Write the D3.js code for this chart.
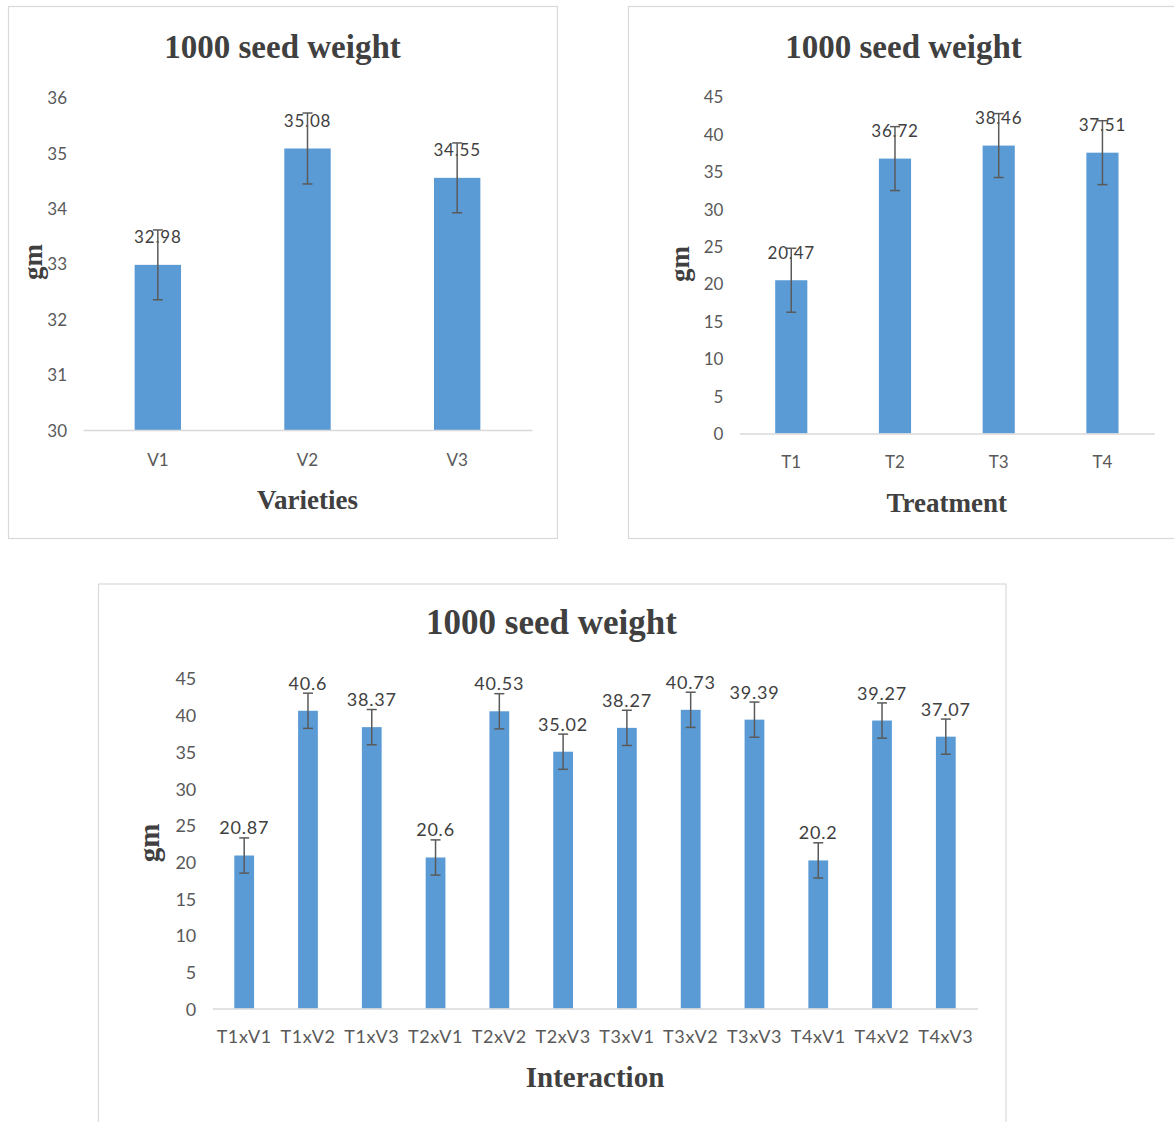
<!DOCTYPE html>
<html><head><meta charset="utf-8">
<script src="https://cdnjs.cloudflare.com/ajax/libs/d3/7.8.5/d3.min.js"></script>
<style>
html,body{margin:0;padding:0;background:#fff;}
svg{display:block;}
</style>
</head><body>
<svg id="chart" width="1174" height="1122"></svg>
<script>
// ---- Data ----
const chartTitle = "1000 seed weight";
const yAxisTitle = "gm";

const varieties = ["V1", "V2", "V3"];
const varietyValues = [32.98, 35.08, 34.55];
const varietyErrors = [0.63, 0.64, 0.63];
const varietyTicks = [30, 31, 32, 33, 34, 35, 36];

const treatments = ["T1", "T2", "T3", "T4"];
const treatmentValues = [20.47, 36.72, 38.46, 37.51];
const treatmentErrors = [4.27, 4.27, 4.27, 4.27];
const treatmentTicks = [0, 5, 10, 15, 20, 25, 30, 35, 40, 45];

const interactions = ["T1xV1", "T1xV2", "T1xV3", "T2xV1", "T2xV2", "T2xV3",
                      "T3xV1", "T3xV2", "T3xV3", "T4xV1", "T4xV2", "T4xV3"];
const interactionValues = [20.87, 40.6, 38.37, 20.6, 40.53, 35.02,
                           38.27, 40.73, 39.39, 20.2, 39.27, 37.07];
const interactionErrors = [2.4, 2.4, 2.4, 2.4, 2.4, 2.4, 2.4, 2.4, 2.4, 2.4, 2.4, 2.4];
const interactionTicks = [0, 5, 10, 15, 20, 25, 30, 35, 40, 45];

// ---- Drawing ----
const svg = d3.select("#chart");
svg.append("rect").attr("width", 1174).attr("height", 1122).attr("fill", "#fff");

const BAR = "#5B9BD5", TXT = "#595959", LBL = "#404040", TTL = "#404040", LINE = "#D9D9D9", ERR = "#5a5a5a";
const SANS = "Lato, 'Open Sans', sans-serif";
const SERIF = "'Liberation Serif', 'Times New Roman', serif";

function drawPanel(cfg) {
  const g = svg.append("g");
  g.append("rect")
    .attr("x", cfg.box[0] + 0.5).attr("y", cfg.box[1] + 0.5)
    .attr("width", cfg.box[2]).attr("height", cfg.box[3])
    .attr("fill", "#fff").attr("stroke", LINE).attr("stroke-width", 1.2);

  const x = d3.scaleBand().domain(cfg.cats).range([cfg.x0, cfg.x1])
    .paddingInner(0.69).paddingOuter(0.345);
  const y = d3.scaleLinear().domain(cfg.domain).range([cfg.y0, cfg.y1]);

  // title
  g.append("text").attr("x", cfg.titleX).attr("y", cfg.titleY)
    .attr("text-anchor", "middle").attr("font-family", SERIF).attr("font-weight", "bold")
    .attr("font-size", cfg.titleSize).attr("fill", TTL).text(chartTitle);

  // y axis
  const ya = g.append("g").attr("transform", `translate(${cfg.x0},0)`)
    .call(d3.axisLeft(y).tickValues(cfg.ticks).tickSize(0).tickPadding(16).tickFormat(d3.format("d")));
  ya.select(".domain").remove();
  ya.selectAll("text").attr("font-family", SANS).attr("font-size", cfg.tickSize)
    .attr("fill", TXT).attr("dy", "0.36em");

  // bars
  g.selectAll(".bar").data(cfg.vals).enter().append("rect")
    .attr("x", (d, i) => x(cfg.cats[i]))
    .attr("y", d => y(d))
    .attr("width", x.bandwidth())
    .attr("height", d => y(cfg.domain[0]) - y(d))
    .attr("fill", BAR);

  // x axis
  const xa = g.append("g").attr("transform", `translate(0,${cfg.y0})`)
    .call(d3.axisBottom(x).tickSize(0).tickSizeOuter(0));
  xa.select(".domain").attr("stroke", LINE).attr("stroke-width", 1.5);
  xa.selectAll("text").attr("font-family", SANS).attr("font-size", cfg.tickSize)
    .attr("letter-spacing", cfg.xLabelSpacing)
    .attr("fill", TXT).attr("y", cfg.xLabelDy).attr("dy", 0);

  // data labels
  g.selectAll(".lbl").data(cfg.vals).enter().append("text")
    .attr("x", (d, i) => x(cfg.cats[i]) + x.bandwidth() / 2)
    .attr("y", d => y(d) - 27.5)
    .attr("dy", "0.36em")
    .attr("text-anchor", "middle").attr("font-family", SANS).attr("font-size", cfg.labelSize)
    .attr("letter-spacing", 0.8)
    .attr("fill", LBL).text(d => String(d));

  // error bars
  const eb = g.selectAll(".err").data(cfg.vals).enter().append("g")
    .attr("stroke", ERR).attr("stroke-width", 1.5);
  eb.append("line")
    .attr("x1", (d, i) => x(cfg.cats[i]) + x.bandwidth() / 2)
    .attr("x2", (d, i) => x(cfg.cats[i]) + x.bandwidth() / 2)
    .attr("y1", (d, i) => y(d + cfg.errs[i]))
    .attr("y2", (d, i) => y(d - cfg.errs[i]));
  [1, -1].forEach(s => {
    eb.append("line")
      .attr("x1", (d, i) => x(cfg.cats[i]) + x.bandwidth() / 2 - 5)
      .attr("x2", (d, i) => x(cfg.cats[i]) + x.bandwidth() / 2 + 5)
      .attr("y1", (d, i) => y(d + s * cfg.errs[i]))
      .attr("y2", (d, i) => y(d + s * cfg.errs[i]));
  });

  // axis titles
  g.append("text").attr("x", (cfg.x0 + cfg.x1) / 2).attr("y", cfg.xTitleY)
    .attr("text-anchor", "middle").attr("font-family", SERIF).attr("font-weight", "bold")
    .attr("font-size", cfg.axisTitleSize).attr("fill", TTL).text(cfg.xTitle);
  g.append("text").attr("transform", `translate(${cfg.gmX},${cfg.gmY}) rotate(-90)`)
    .attr("text-anchor", "middle").attr("font-family", SERIF).attr("font-weight", "bold")
    .attr("font-size", cfg.axisTitleSize).attr("fill", TTL).text(yAxisTitle);
}

drawPanel({
  box: [8, 6, 549, 532], cats: varieties, vals: varietyValues, errs: varietyErrors,
  ticks: varietyTicks, domain: [30, 36], x0: 83, x1: 532, y0: 430, y1: 97.5,
  titleX: 282.5, titleY: 58, titleSize: 33, tickSize: 17, labelSize: 17, xLabelSpacing: 0,
  xLabelDy: 36, xTitle: "Varieties", xTitleY: 509, axisTitleSize: 27, gmX: 42, gmY: 262
});

drawPanel({
  box: [628, 6, 560, 532], cats: treatments, vals: treatmentValues, errs: treatmentErrors,
  ticks: treatmentTicks, domain: [0, 45], x0: 739.4, x1: 1154.3, y0: 433.5, y1: 96.6,
  titleX: 903.5, titleY: 58, titleSize: 33, tickSize: 17, labelSize: 17, xLabelSpacing: 0,
  xLabelDy: 34, xTitle: "Treatment", xTitleY: 512, axisTitleSize: 27, gmX: 689, gmY: 264
});

drawPanel({
  box: [98, 583.5, 907.5, 560], cats: interactions, vals: interactionValues, errs: interactionErrors,
  ticks: interactionTicks, domain: [0, 45], x0: 212.3, x1: 977.7, y0: 1008.6, y1: 678.5,
  titleX: 551.5, titleY: 633.5, titleSize: 35, tickSize: 18, labelSize: 18, xLabelSpacing: 0.6,
  xLabelDy: 34, xTitle: "Interaction", xTitleY: 1087, axisTitleSize: 29, gmX: 159, gmY: 843
});
</script>
</body></html>
